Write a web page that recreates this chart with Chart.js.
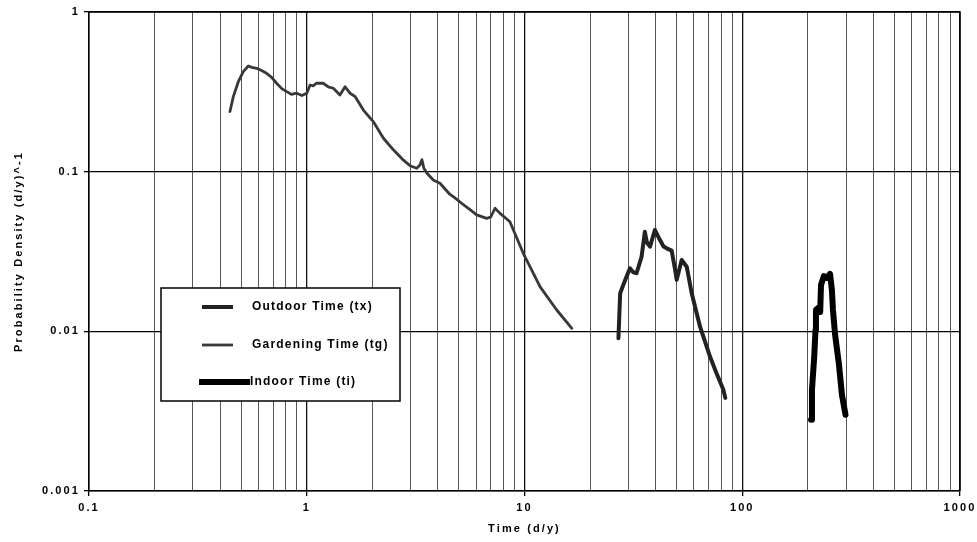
<!DOCTYPE html>
<html>
<head>
<meta charset="utf-8">
<script src="https://cdn.jsdelivr.net/npm/chart.js@4/dist/chart.umd.min.js"></script>
<style>
  html, body { margin: 0; padding: 0; background: #fff; }
  #wrap { width: 977px; height: 542px; }
</style>
</head>
<body>
<div id="wrap"><canvas id="chart" width="977" height="542"></canvas></div>
<script>
// values (log-log)

const gardenX = [0.444, 0.46, 0.485, 0.511, 0.539, 0.56, 0.589, 0.62, 0.654, 0.69, 0.727, 0.77, 0.809, 0.85,
  0.899, 0.95, 1.0, 1.036, 1.07, 1.11, 1.19, 1.256, 1.325, 1.42, 1.5, 1.58, 1.67, 1.82, 2.02, 2.25, 2.5,
  2.78, 2.98, 3.2, 3.31, 3.38, 3.45, 3.56, 3.81, 4.09, 4.55, 4.71, 5.14, 5.6, 6.03, 6.7, 7.0, 7.32, 7.7,
  8.57, 9.87, 11.8, 14.06, 16.5]
const gardenY = [0.238, 0.295, 0.366, 0.423, 0.459, 0.45, 0.444, 0.43, 0.413, 0.39, 0.358, 0.33, 0.317, 0.305,
  0.31, 0.3, 0.31, 0.349, 0.345, 0.358, 0.358, 0.34, 0.333, 0.302, 0.34, 0.31, 0.295, 0.243, 0.206, 0.162, 0.137,
  0.118, 0.109, 0.105, 0.11, 0.119, 0.105, 0.098, 0.0887, 0.0846, 0.072, 0.0697, 0.0634, 0.058, 0.0536, 0.051, 0.052,
  0.059, 0.055, 0.0486, 0.0308, 0.019, 0.0136, 0.01045]

const outdoorX = [27.0, 27.5, 28.2, 29.4, 30.5, 31.5, 32.7, 34.5, 35.7, 36.5, 37.7, 39.7, 41.9, 43.5, 45.0, 47.4,
  49.0, 50.0, 52.7, 55.6, 58.6, 64.0, 71.1, 76.0, 81.9, 83.6]
const outdoorY = [0.00905, 0.0173, 0.019, 0.022, 0.0248, 0.0235, 0.0231, 0.0294, 0.042, 0.036, 0.0339, 0.0431, 0.0373,
  0.034, 0.0331, 0.032, 0.025, 0.021, 0.028, 0.0254, 0.0173, 0.0107, 0.00695, 0.0055, 0.0043, 0.00383]

const indoorX = [207, 209, 214, 217, 218, 223, 228, 230, 237, 245, 253, 258, 261, 267, 278, 287, 298]
const indoorY = [0.00279, 0.0043, 0.0069, 0.0102, 0.0136, 0.014, 0.0132, 0.0195, 0.0222, 0.0216, 0.0229, 0.0182,
  0.0136, 0.0095, 0.0062, 0.004, 0.003]

const xTickValues = [0.1, 0.2, 0.3, 0.4, 0.5, 0.6, 0.7, 0.8, 0.9,
  1, 2, 3, 4, 5, 6, 7, 8, 9,
  10, 20, 30, 40, 50, 60, 70, 80, 90,
  100, 200, 300, 400, 500, 600, 700, 800, 900, 1000]
const xMajorTicks = [0.1, 1, 10, 100, 1000]
const xTickLabels = ['0.1', '1', '10', '100', '1000']
const yTickValues = [0.001, 0.01, 0.1, 1]
const yTickLabels = ['0.001', '0.01', '0.1', '1']

const seriesNames = ['Outdoor Time (tx)', 'Gardening Time (tg)', 'Indoor Time (ti)']

const FONT = '"Liberation Sans", Arial, sans-serif'

function points(xs, ys) {
  return xs.map((x, i) => ({ x: x, y: ys[i] }))
}

function isMajor(v) {
  return xMajorTicks.some(m => Math.abs(v - m) / m < 1e-6)
}

// spaced-out lettering like the scan
const spacing = {
  id: 'spacing',
  beforeUpdate(chart) { chart.ctx.letterSpacing = '2.1px' },
  beforeDraw(chart) { chart.ctx.letterSpacing = '2.1px' }
}

// top and right edges of the plot frame
const frame = {
  id: 'frame',
  afterDatasetsDraw(chart) {
    const { ctx, chartArea: a } = chart
    ctx.save()
    ctx.strokeStyle = '#000'
    ctx.lineWidth = 1.5
    ctx.beginPath()
    ctx.moveTo(a.left, a.top)
    ctx.lineTo(a.right, a.top)
    ctx.lineTo(a.right, a.bottom)
    ctx.stroke()
    ctx.restore()
  }
}

// boxed legend sitting inside the plot
const boxLegend = {
  id: 'boxLegend',
  afterDraw(chart) {
    const ctx = chart.ctx
    const box = { left: 161, top: 288, width: 239, height: 113 }
    const rows = [307, 345, 382]
    ctx.save()
    ctx.fillStyle = '#fff'
    ctx.fillRect(box.left, box.top, box.width, box.height)
    ctx.strokeStyle = '#000'
    ctx.lineWidth = 1.5
    ctx.strokeRect(box.left, box.top, box.width, box.height)

    chart.data.datasets.forEach((ds, i) => {
      const y = rows[i]
      ctx.strokeStyle = ds.borderColor
      ctx.lineWidth = ds.borderWidth
      ctx.lineCap = 'butt'
      ctx.beginPath()
      if (i === 2) {
        ctx.moveTo(199, y)
        ctx.lineTo(250, y)
      } else {
        ctx.moveTo(202, y)
        ctx.lineTo(233, y)
      }
      ctx.stroke()

      ctx.letterSpacing = '1.2px'
      ctx.fillStyle = '#000'
      ctx.font = 'bold 12px ' + FONT
      ctx.textBaseline = 'middle'
      ctx.textAlign = 'left'
      ctx.fillText(ds.label, i === 2 ? 250 : 252, y)
    })
    ctx.restore()
  }
}

const datasets = [
  {
    label: seriesNames[0],
    data: points(outdoorX, outdoorY),
    borderColor: '#222',
    borderWidth: 4
  },
  {
    label: seriesNames[1],
    data: points(gardenX, gardenY),
    borderColor: '#383838',
    borderWidth: 2.8
  },
  {
    label: seriesNames[2],
    data: points(indoorX, indoorY),
    borderColor: '#000',
    borderWidth: 6
  }
].map(ds => Object.assign(ds, {
  showLine: true,
  pointRadius: 0,
  pointHoverRadius: 0,
  tension: 0,
  fill: false,
  borderJoinStyle: 'round',
  borderCapStyle: 'round'
}))

new Chart(document.getElementById('chart'), {
  type: 'scatter',
  data: { datasets: datasets },
  plugins: [spacing, frame, boxLegend],
  options: {
    responsive: false,
    animation: false,
    devicePixelRatio: 1,
    layout: { padding: { top: 12, right: 17, left: 0, bottom: 0 } },
    plugins: {
      legend: { display: false },
      tooltip: { enabled: false }
    },
    scales: {
      x: {
        type: 'logarithmic',
        min: 0.1,
        max: 1000,
        afterBuildTicks(scale) {
          scale.ticks = xTickValues.map(v => ({ value: v, major: isMajor(v) }))
        },
        afterFit(scale) {
          scale.height = 51
          scale.paddingLeft = 0
          scale.paddingRight = 0
        },
        ticks: {
          autoSkip: false,
          maxRotation: 0,
          padding: 5,
          color: '#000',
          font: { family: FONT, size: 11, weight: 'bold' },
          callback(value) {
            const i = xMajorTicks.findIndex(m => Math.abs(value - m) / m < 1e-6)
            return i >= 0 ? xTickLabels[i] : ''
          }
        },
        grid: {
          color: ctx => (ctx.tick && isMajor(ctx.tick.value)) ? '#111' : '#555',
          lineWidth: ctx => (ctx.tick && isMajor(ctx.tick.value)) ? 1.3 : 1,
          tickColor: ctx => (ctx.tick && isMajor(ctx.tick.value)) ? '#000' : 'rgba(0,0,0,0)',
          tickLength: 5
        },
        border: { color: '#000', width: 1.5 },
        title: {
          display: true,
          text: 'Time (d/y)',
          color: '#000',
          font: { family: FONT, size: 11, weight: 'bold' },
          padding: { top: 4, bottom: 6 }
        }
      },
      y: {
        type: 'logarithmic',
        min: 0.001,
        max: 1,
        afterBuildTicks(scale) {
          scale.ticks = yTickValues.map(v => ({ value: v }))
        },
        afterFit(scale) { scale.width = 89 },
        ticks: {
          autoSkip: false,
          padding: 4,
          color: '#000',
          font: { family: FONT, size: 11, weight: 'bold' },
          callback(value) {
            const i = yTickValues.findIndex(m => Math.abs(value - m) / m < 1e-6)
            return i >= 0 ? yTickLabels[i] : ''
          }
        },
        grid: {
          color: '#000',
          lineWidth: 1.3,
          tickColor: '#000',
          tickLength: 5
        },
        border: { color: '#000', width: 1.5 },
        title: {
          display: true,
          text: 'Probability Density (d/y)^-1',
          color: '#000',
          font: { family: FONT, size: 11, weight: 'bold' },
          padding: { top: 12, bottom: 0 }
        }
      }
    }
  }
})
</script>
</body>
</html>
